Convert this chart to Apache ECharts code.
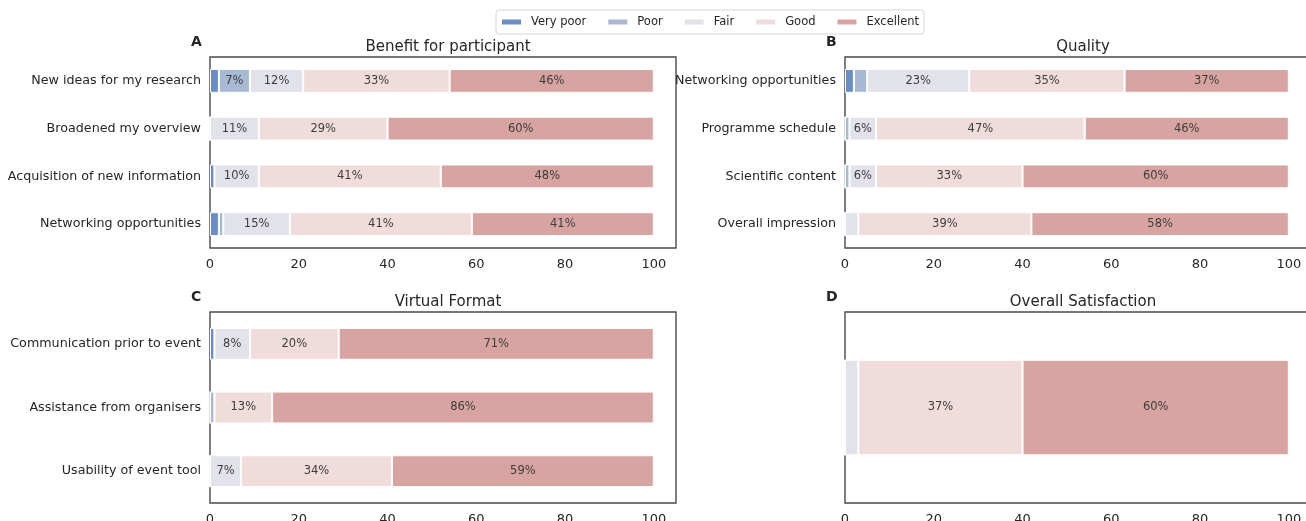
<!DOCTYPE html>
<html>
<head>
<meta charset="utf-8">
<script src="https://cdn.jsdelivr.net/npm/echarts@6/dist/echarts.min.js"></script>
<style>
  html, body { margin: 0; padding: 0; background: #fff; overflow: hidden; }
  #chart { width: 1320px; height: 521px; }
</style>
</head>
<body>
<div id="chart"></div>
<script>
const levels = ["Very poor", "Poor", "Fair", "Good", "Excellent"];
const colors = ["#6a8dc4", "#a8b9d3", "#e2e3ea", "#f1dcdc", "#d8a4a1"];

const benefitCats = ["New ideas for my research", "Broadened my overview", "Acquisition of new information", "Networking opportunities"];
const benefitVals = [
  [2, 0, 1, 2],
  [7, 0, 0, 1],
  [12, 11, 10, 15],
  [33, 29, 41, 41],
  [46, 60, 48, 41],
];

const qualityCats = ["Networking opportunities", "Programme schedule", "Scientific content", "Overall impression"];
const qualityVals = [
  [2, 0, 0, 0],
  [3, 1, 1, 0],
  [23, 6, 6, 3],
  [35, 47, 33, 39],
  [37, 46, 60, 58],
];

const virtualCats = ["Communication prior to event", "Assistance from organisers", "Usability of event tool"];
const virtualVals = [
  [1, 0, 0],
  [0, 1, 0],
  [8, 0, 7],
  [20, 13, 34],
  [71, 86, 59],
];

const overallCats = [""];
const overallVals = [[0], [0], [3], [37], [60]];

const xTicks = [0, 20, 40, 60, 80, 100];

const panels = [
  { title: "Benefit for participant", letter: "A", cats: benefitCats, vals: benefitVals, left: 210, top: 57, showY: true },
  { title: "Quality", letter: "B", cats: qualityCats, vals: qualityVals, left: 845, top: 57, showY: true },
  { title: "Virtual Format", letter: "C", cats: virtualCats, vals: virtualVals, left: 210, top: 312, showY: true },
  { title: "Overall Satisfaction", letter: "D", cats: overallCats, vals: overallVals, left: 845, top: 312, showY: false },
];

const font = "DejaVu Sans";
const chart = echarts.init(document.getElementById("chart"));

const grid = [], xAxis = [], yAxis = [], series = [], title = [];
panels.forEach((p, i) => {
  grid.push({ left: p.left, top: p.top, width: 466, height: 191, show: true, borderColor: "#4a4a4a", borderWidth: 1.4,
    backgroundColor: "#fff", containLabel: false, outerBoundsMode: "none" });
  xAxis.push({
    type: "value", gridIndex: i, min: 0, max: 105, interval: 20,
    axisLine: { show: false }, axisTick: { show: false }, splitLine: { show: false },
    axisLabel: { color: "#262626", fontSize: 13, fontFamily: font, margin: 10,
      formatter: (v) => (xTicks.includes(v) ? String(v) : "") },
  });
  yAxis.push({
    type: "category", gridIndex: i, data: p.cats, inverse: true,
    axisLine: { show: false }, axisTick: { show: false },
    axisLabel: { show: p.showY, color: "#262626", fontSize: 12.7, fontFamily: font, margin: 9 },
  });
  title.push({ text: p.title, left: p.left + 233, top: p.top - 22, textAlign: "center",
    textStyle: { fontSize: 15, fontWeight: "normal", color: "#262626", fontFamily: font } });
  title.push({ text: p.letter, left: p.left - 24, top: p.top - 27,
    textStyle: { fontSize: 14, fontWeight: "bold", color: "#262626", fontFamily: font } });
  levels.forEach((lv, k) => {
    series.push({
      name: lv, type: "bar", stack: "s" + i, xAxisIndex: i, yAxisIndex: i,
      data: p.vals[k], barWidth: "50%",
      itemStyle: { color: colors[k], borderColor: "#fff", borderWidth: 1 },
      label: { show: true, position: "inside", color: "#3d3d3d", fontSize: 11.5, fontFamily: font,
        formatter: (d) => (d.value >= 5 ? d.value + "%" : "") },
      emphasis: { disabled: true },
    });
  });
});

chart.setOption({
  animation: false,
  title,
  legend: {
    data: levels, top: 10, left: 496,
    itemWidth: 21, itemHeight: 7, itemGap: 20,
    borderColor: "#d6d6d6", borderWidth: 1, borderRadius: 3, padding: [6, 5, 6, 4],
    textStyle: { fontSize: 11.5, color: "#262626", fontFamily: font, padding: [0, 0, 0, 4] },
    icon: "rect",
  },
  grid, xAxis, yAxis, series,
});
</script>
</body>
</html>
